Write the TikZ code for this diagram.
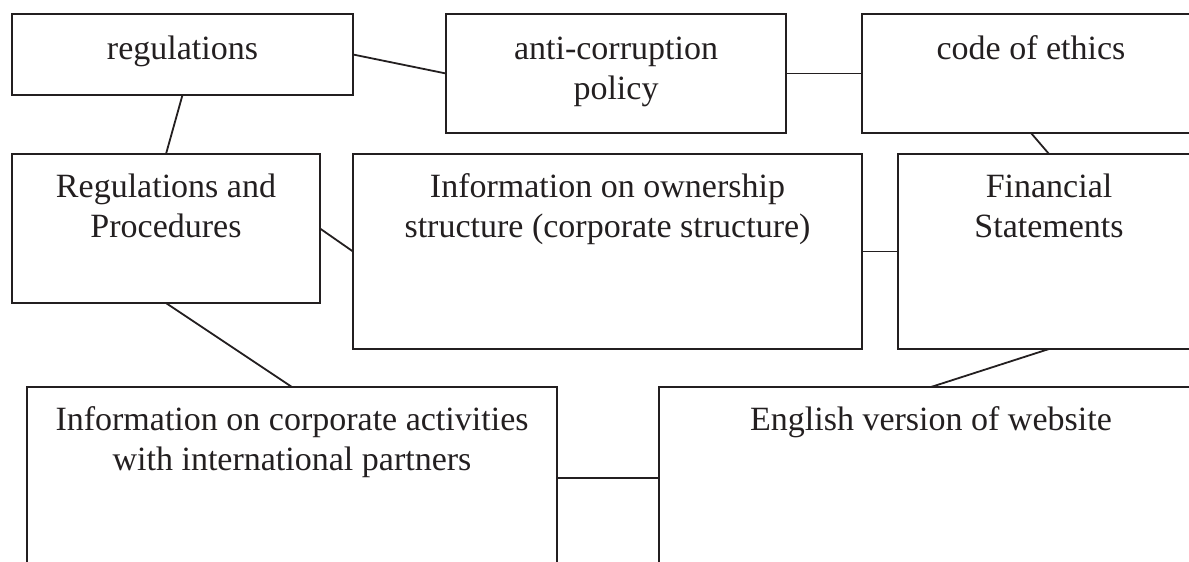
\documentclass[tikz,border=0pt]{standalone}
\usepackage{fontspec}
\setmainfont{Liberation Serif}
\usetikzlibrary{positioning,calc}
\definecolor{boxline}{HTML}{231F20}

\begin{document}
\begin{tikzpicture}[x=1pt,y=-1pt,
    box/.style={draw=boxline,line width=2pt,inner sep=0pt,outer sep=0pt,
      anchor=north west},
    boxtext/.style={anchor=base,align=center,inner sep=0pt,text=boxline,
      font=\fontsize{34}{40}\selectfont},
    link/.style={draw=boxline,line width=1.8pt}]

  % ---- Frame ---------------------------------------------
  \useasboundingbox (0,0) rectangle (1189,562);
  \clip (0,0) rectangle (1189,562);

  % ---- Top row -------------------------------------------
  \node[box,minimum width=341pt,minimum height=81pt]  (reg)  at (12,14)  {};
  \node[box,minimum width=340pt,minimum height=119pt] (anti) at (446,14) {};
  \node[box,minimum width=338pt,minimum height=119pt] (code) at (862,14) {};

  % base sits on the last line, so two-line texts go 40pt lower
  \node[boxtext] (reg-t)  at ([yshift=-45pt]reg.north)  {regulations};
  \node[boxtext] (anti-t) at ([yshift=-85pt]anti.north) {anti-corruption\\policy};
  \node[boxtext] (code-t) at ([yshift=-45pt]code.north) {code of ethics};

  % ---- Middle row ----------------------------------------
  \node[box,minimum width=308pt,minimum height=149pt] (proc) at (12,154)  {};
  \node[box,minimum width=509pt,minimum height=195pt] (own)  at (353,154) {};
  \node[box,minimum width=302pt,minimum height=195pt] (fin)  at (898,154) {};

  \node[boxtext] (proc-t) at ([yshift=-83pt]proc.north) {Regulations and\\Procedures};
  \node[boxtext] (own-t)  at ([yshift=-83pt]own.north)
    {Information on ownership\\structure (corporate structure)};
  \node[boxtext] (fin-t)  at ([yshift=-83pt]fin.north)  {Financial\\Statements};

  % ---- Bottom row ----------------------------------------
  \node[box,minimum width=530pt,minimum height=182pt] (act) at (27,387)  {};
  \node[box,minimum width=544pt,minimum height=182pt] (eng) at (659,387) {};

  \node[boxtext] (act-t) at ([yshift=-83pt]act.north)
    {Information on corporate activities\\with international partners};
  \node[boxtext] (eng-t) at ([yshift=-43pt]eng.north) {English version of website};

  % ---- Links ---------------------------------------------
  \draw[link] (reg.east)   -- (anti.west);
  \draw[link] (anti.east)  -- (code.west);
  \draw[link] (reg.south)  -- (proc.north);
  \draw[link] (code.south) -- (fin.north);
  \draw[link] (proc.east)  -- (own.west);
  \draw[link] (own.east)   -- (fin.west);
  \draw[link] (proc.south) -- (act.north);
  \draw[link] (fin.south)  -- (eng.north);
  \draw[link] (act.east)   -- (eng.west);

\end{tikzpicture}
\end{document}
